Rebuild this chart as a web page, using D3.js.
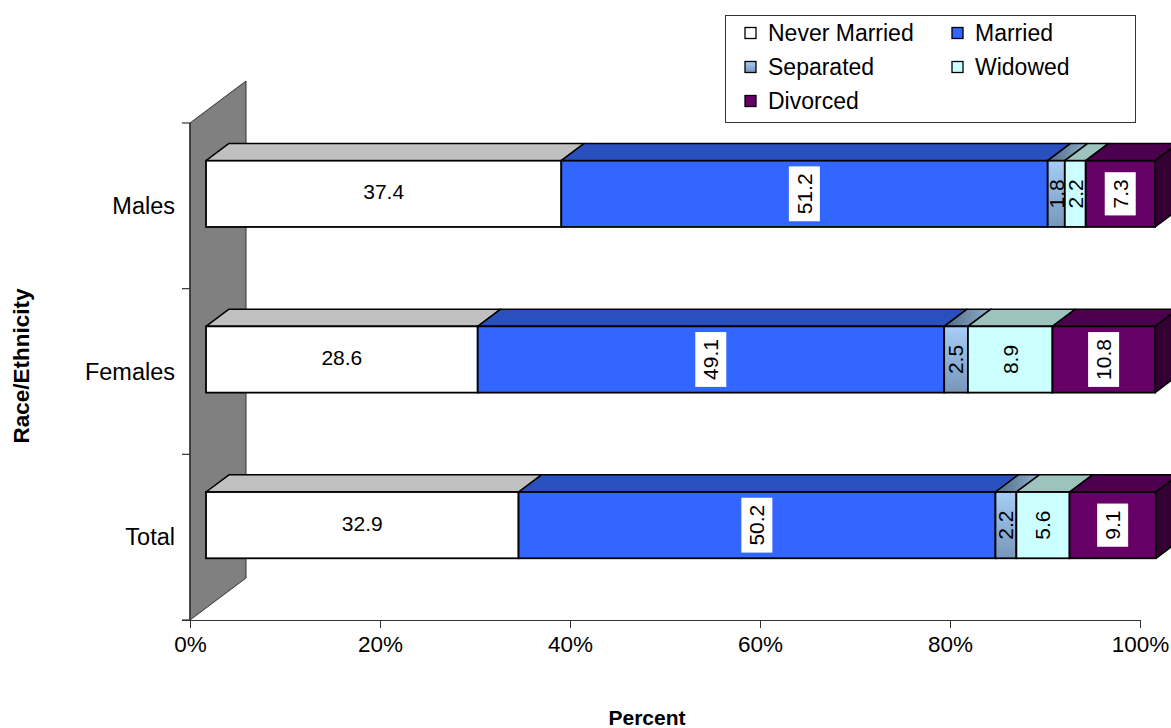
<!DOCTYPE html>
<html><head><meta charset="utf-8">
<script src="https://cdn.jsdelivr.net/npm/d3@7"></script>
<style>body{margin:0;background:#fff;}svg{display:block;font-family:"Liberation Sans",Arial,sans-serif;}</style>
</head><body><svg id="c" width="1171" height="728"></svg>
<script>
const categories = ["Males", "Females", "Total"];
const seriesNames = ["Never Married", "Married", "Separated", "Widowed", "Divorced"];
const neverMarried = [37.4, 28.6, 32.9];
const married = [51.2, 49.1, 50.2];
const separated = [1.8, 2.5, 2.2];
const widowed = [2.2, 8.9, 5.6];
const divorced = [7.3, 10.8, 9.1];
const xTicks = [0, 20, 40, 60, 80, 100];

const seriesValues = [neverMarried, married, separated, widowed, divorced];
const front = ["#FFFFFF", "#3366FF", "url(#sepGrad)", "#CCFFFF", "#660066"];
const topC = ["#C0C0C0", "#2A50C0", "url(#sepTop)", "#9CC3BE", "#4D004D"];
const sideC = ["#A0A0A0", "#1E3A90", "#5A7890", "#7FA8A4", "#330033"];
const labelBox = [false, true, false, false, true];
const rotated = [false, true, true, true, true];

const svg = d3.select("#c");
const defs = svg.append("defs");
const g1 = defs.append("linearGradient").attr("id","sepGrad").attr("x1",0).attr("y1",0).attr("x2",0).attr("y2",1);
g1.append("stop").attr("offset","0%").attr("stop-color","#A6CEF8");
g1.append("stop").attr("offset","100%").attr("stop-color","#7896BA");
const g2 = defs.append("linearGradient").attr("id","sepTop").attr("x1",0).attr("y1",0).attr("x2",1).attr("y2",0);
g2.append("stop").attr("offset","0%").attr("stop-color","#4E6A86");
g2.append("stop").attr("offset","100%").attr("stop-color","#8FB0CC");

// geometry
const x = d3.scaleLinear().domain([0,100]).range([190,1140]);
const yIdx = d3.scaleLinear().domain([0,3]).range([123,620]);
const DX = 56, DY = 42;          // full depth offset
const d0 = 0.286, d1 = 0.696;    // bar depth range
const step = yIdx(1) - yIdx(0);
const barH = step * 0.4;

// wall
svg.append("polygon")
  .attr("points", [[190,yIdx(0)],[190+DX,yIdx(0)-DY],[190+DX,yIdx(3)-DY],[190,yIdx(3)]].map(p=>p.join(",")).join(" "))
  .attr("fill","#808080").attr("stroke","#333").attr("stroke-width",1);
svg.append("line").attr("x1",190).attr("x2",190).attr("y1",yIdx(0)).attr("y2",yIdx(3)).attr("stroke","#333").attr("stroke-width",1.5);

// y ticks
[0,1,2,3].forEach(i=>{
  svg.append("line").attr("x1",182).attr("x2",190).attr("y1",yIdx(i)).attr("y2",yIdx(i)).attr("stroke","#333").attr("stroke-width",1.2);
});
categories.forEach((c,i)=>{
  svg.append("text").attr("x",175).attr("y",yIdx(i+0.5)).attr("dy","0.35em")
    .attr("text-anchor","end").attr("font-size",23.5).attr("fill","#000").text(c);
});

// x axis
const xAxis = d3.axisBottom(x).tickValues(xTicks).tickFormat(d=>d+"%").tickSize(8).tickSizeOuter(0).tickPadding(8);
const ax = svg.append("g").attr("transform","translate(0,620)").call(xAxis);
ax.select(".domain").attr("stroke","#333").attr("stroke-width",1.2).attr("d","M182,0.5H1140");
ax.selectAll(".tick line").attr("stroke","#333");
ax.selectAll(".tick text").attr("font-size",22.5).attr("fill","#000").attr("font-family","Liberation Sans, Arial, sans-serif");

// bars
const ox = DX*d0, oy = DY*d0;
const ddx = DX*(d1-d0), ddy = DY*(d1-d0);
categories.forEach((c,i)=>{
  let cum = 0;
  const yTop = yIdx(i+0.5) - barH/2 - oy;
  const gB = svg.append("g");
  seriesValues.forEach((vals,j)=>{
    const v = vals[i];
    const x1 = x(cum)+ox, x2 = x(cum+v)+ox;
    cum += v;
    gB.append("polygon")
      .attr("points", [[x1,yTop],[x2,yTop],[x2+ddx,yTop-ddy],[x1+ddx,yTop-ddy]].map(p=>p.join(",")).join(" "))
      .attr("fill", topC[j]).attr("stroke","#000").attr("stroke-width",1.5).attr("stroke-linejoin","round");
    if (j === seriesValues.length-1) {
      gB.append("polygon")
        .attr("points", [[x2,yTop],[x2+ddx,yTop-ddy],[x2+ddx,yTop+barH-ddy],[x2,yTop+barH]].map(p=>p.join(",")).join(" "))
        .attr("fill", sideC[j]).attr("stroke","#000").attr("stroke-width",1.5).attr("stroke-linejoin","round");
    }
    gB.append("rect").attr("x",x1).attr("y",yTop).attr("width",x2-x1).attr("height",barH)
      .attr("fill", front[j]).attr("stroke","#000").attr("stroke-width",1.8);
    const cx = (x1+x2)/2, cy = yTop + barH/2 - (rotated[j] ? 0 : 2);
    const lg = gB.append("g").attr("transform", `translate(${cx},${cy})` + (rotated[j] ? " rotate(-90)" : ""));
    const t = lg.append("text").attr("text-anchor","middle").attr("dy","0.35em")
      .attr("font-size",21).attr("fill","#000").text(v.toFixed(1));
    if (labelBox[j]) {
      const bb = t.node().getBBox();
      lg.insert("rect","text").attr("x",bb.x-7).attr("y",bb.y-4).attr("width",bb.width+14).attr("height",bb.height+8).attr("fill","#fff");
    }
  });
});

// axis titles
svg.append("text").attr("x",647).attr("y",725).attr("text-anchor","middle")
  .attr("font-size",21).attr("font-weight","bold").text("Percent");
svg.append("text").attr("transform","translate(29,366) rotate(-90)").attr("text-anchor","middle")
  .attr("font-size",22.5).attr("font-weight","bold").text("Race/Ethnicity");

// legend
const lg = svg.append("g");
lg.append("rect").attr("x",725.5).attr("y",15.5).attr("width",410).attr("height",107).attr("fill","#fff").attr("stroke","#333").attr("stroke-width",1);
const legendPos = [[745,33],[952,33],[745,67],[952,67],[745,101]];
seriesNames.forEach((n,j)=>{
  const [lx,ly] = legendPos[j];
  lg.append("rect").attr("x",lx).attr("y",ly-5.5).attr("width",11).attr("height",11)
    .attr("fill",front[j]).attr("stroke","#000").attr("stroke-width",1.3);
  lg.append("text").attr("x",lx+23).attr("y",ly).attr("dy","0.35em").attr("font-size",23).text(n);
});
</script>
</body></html>
